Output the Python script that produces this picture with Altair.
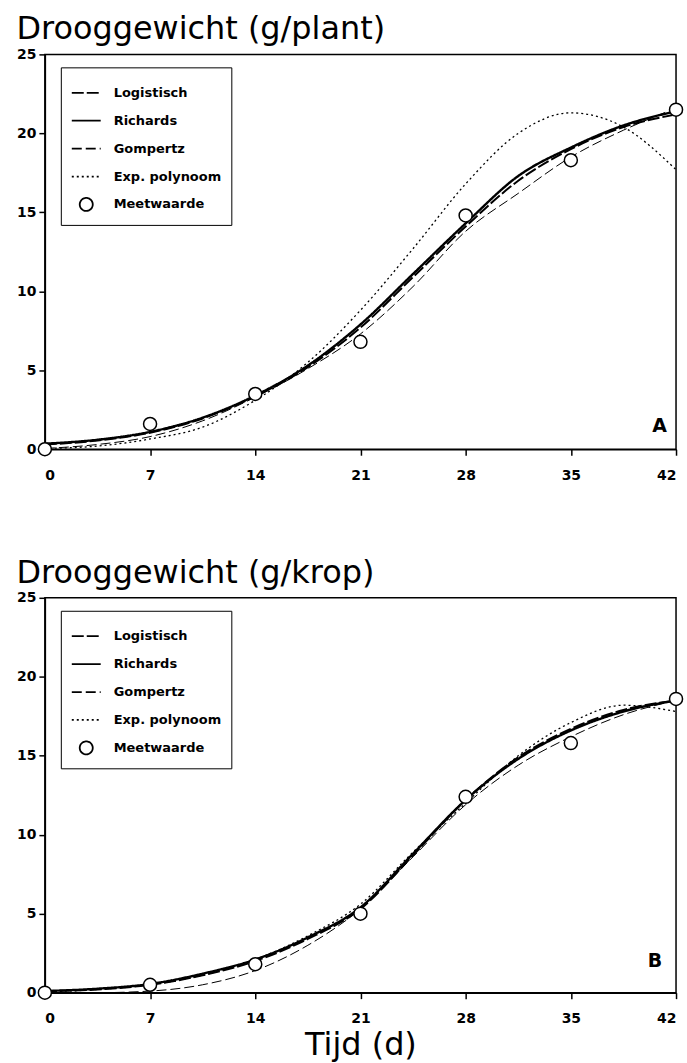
import altair as alt
import pandas as pd

# ---- data ----
t_grid = [0, 3.5, 7, 10.5, 14, 17.5, 21, 24.5, 28, 31.5, 35, 38.5, 42]
series_names = ["Logistisch", "Richards", "Gompertz", "Exp. polynoom"]
legend_names = series_names + ["Meetwaarde"]

a_logistisch = [0.3, 0.55, 1.05, 1.95, 3.35, 5.2, 7.7, 10.9, 14.1, 17.0, 19.0, 20.4, 21.2]
a_richards = [0.35, 0.6, 1.1, 2.0, 3.4, 5.3, 7.9, 11.1, 14.3, 17.3, 19.1, 20.5, 21.4]
a_gompertz = [0.05, 0.3, 0.8, 1.8, 3.3, 5.1, 7.3, 10.3, 13.8, 16.2, 18.5, 20.2, 21.6]
a_exp = [0.05, 0.2, 0.65, 1.4, 3.1, 5.5, 8.8, 12.7, 16.8, 20.0, 21.3, 20.4, 17.7]

b_logistisch = [0.1, 0.2, 0.5, 1.1, 2.0, 3.4, 5.3, 8.7, 12.2, 14.9, 16.7, 17.9, 18.5]
b_richards = [0.1, 0.25, 0.55, 1.2, 2.1, 3.5, 5.4, 8.8, 12.2, 14.8, 16.6, 17.8, 18.5]
b_gompertz = [0.0, 0.0, 0.1, 0.5, 1.4, 3.0, 5.3, 8.6, 11.9, 14.4, 16.2, 17.6, 18.5]
b_exp = [0.05, 0.2, 0.5, 1.1, 2.1, 3.6, 5.6, 8.9, 12.0, 15.0, 17.1, 18.2, 17.8]

meet_days = [0, 7, 14, 21, 28, 35, 42]
a_meet = [0, 1.6, 3.5, 6.8, 14.8, 18.3, 21.5]
b_meet = [0, 0.5, 1.8, 5.0, 12.4, 15.8, 18.6]

x_ticks = [0, 7, 14, 21, 28, 35, 42]
y_ticks = [0, 5, 10, 15, 20, 25]

titles = ["Drooggewicht (g/plant)", "Drooggewicht (g/krop)"]
letters = ["A", "B"]
letter_t = [40.9, 40.6]
letter_v = [1.5, 2.0]

# ---- styles ----
dash_range = [[12, 3], [1, 0], [10, 4], [2, 3], [1, 0]]
line_widths = [2.0, 2.4, 1.0, 1.3]
CIRCLE = "M -0.45 0 A 0.45 0.45 0 1 0 0.45 0 A 0.45 0.45 0 1 0 -0.45 0 Z"
shape_range = ["stroke", "stroke", "stroke", "stroke", CIRCLE]
SYM = 841

W, H = 633, 396


def make_legend():
    return alt.Legend(
        title=None, orient="none", legendX=16, legendY=13,
        symbolSize=SYM, symbolStrokeWidth=1.8,
        labelFont="DejaVu Sans", labelFontWeight="bold", labelFontSize=13,
        labelColor="black", padding=10, strokeColor="black", fillColor="white",
        rowPadding=5, labelOffset=12,
    )


def panel(title, curves, meet, letter, lt, lv, show_xtitle):
    mdf = pd.DataFrame({"t": meet_days, "v": meet, "series": ["Meetwaarde"] * len(meet)})
    ldf = pd.DataFrame({"t": [lt], "v": [lv], "label": [letter]})

    x = alt.X("t:Q", scale=alt.Scale(domain=[0, 42], nice=False, zero=False),
              axis=alt.Axis(values=x_ticks, format="d", labelPadding=13),
              title="Tijd (d)" if show_xtitle else None)
    y = alt.Y("v:Q", scale=alt.Scale(domain=[0, 25], nice=False),
              axis=alt.Axis(values=y_ticks, format="d", labelPadding=3), title=None)

    layers = []
    for i, (name, vals) in enumerate(zip(series_names, curves)):
        df = pd.DataFrame({"t": t_grid, "v": vals, "series": [name] * len(vals)})
        layers.append(
            alt.Chart(df).mark_line(interpolate="monotone", color="black",
                                    strokeWidth=line_widths[i]).encode(
                x=x, y=y,
                strokeDash=alt.StrokeDash("series:N",
                                          scale=alt.Scale(domain=legend_names, range=dash_range),
                                          legend=make_legend() if i == 0 else None),
            )
        )
    shape = alt.Shape("series:N", scale=alt.Scale(domain=legend_names, range=shape_range),
                      legend=make_legend())
    pts = alt.Chart(mdf).mark_point(size=SYM, filled=True, fill="white",
                                     stroke="black", strokeWidth=1.5, opacity=1).encode(
        x=x, y=y, shape=shape)
    layers.append(pts)
    layers.append(alt.Chart(ldf).mark_text(font="DejaVu Sans", fontWeight="bold", fontSize=19,
                                           color="black").encode(x=x, y=y, text="label:N"))
    return alt.layer(*layers).properties(
        width=W, height=H,
        title=alt.TitleParams(title, anchor="start", font="DejaVu Sans", fontSize=32,
                              fontWeight="normal", color="black", offset=1))


top = panel(titles[0], [a_logistisch, a_richards, a_gompertz, a_exp], a_meet,
            letters[0], letter_t[0], letter_v[0], False)
bottom = panel(titles[1], [b_logistisch, b_richards, b_gompertz, b_exp], b_meet,
               letters[1], letter_t[1], letter_v[1], True)

chart = alt.vconcat(top, bottom, spacing=73).resolve_scale(
    strokeDash="independent", shape="independent"
).resolve_legend(strokeDash="independent", shape="independent").properties(
    padding={"left": 15, "top": 11, "right": 0, "bottom": 0}
).configure_view(stroke="black", strokeWidth=1.5).configure_axis(
    domainColor="black", domainWidth=1.5, tickColor="black", tickWidth=1.5, tickSize=6,
    labelColor="black", labelFont="DejaVu Sans", labelFontWeight="bold", labelFontSize=14,
    grid=False, titleFont="DejaVu Sans", titleFontSize=32, titleFontWeight="normal",
    titleColor="black", titlePadding=4
)

chart.save("out.html", embed_options={"renderer": "svg", "actions": False})
